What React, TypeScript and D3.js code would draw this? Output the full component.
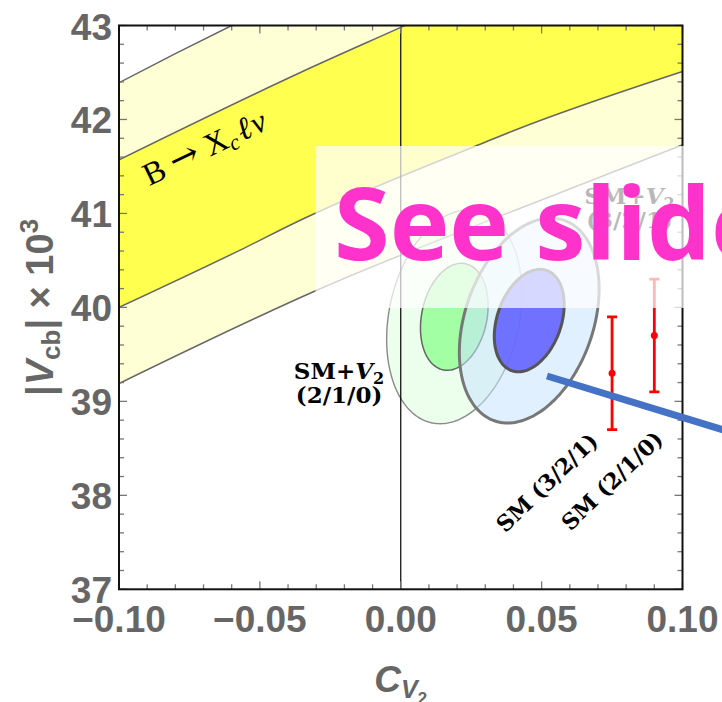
import React from "react";
import * as d3 from "d3";

const W = 722;
const H = 702;

// Edges of the B -> X_c l nu band, as [C_V2, |Vcb| x 10^3]; the last points lie above the frame
const bandOuterUpper: number[][] = [[-0.1, 42.39], [-0.08, 42.7], [-0.06, 43.0], [-0.04, 43.29], [0.1, 45.3]];
const bandInnerUpper: number[][] = [[-0.1, 41.57], [-0.0356, 42.5], [0.0, 42.98], [0.02, 43.25], [0.1, 44.3]];
const bandInnerLower: number[][] = [[-0.1, 40.0], [-0.057, 40.61], [-0.0355, 40.93], [0.026, 41.71], [0.04, 41.88], [0.1, 42.51]];
const bandOuterLower: number[][] = [[-0.1, 39.19], [-0.03, 40.18], [0.0565, 41.22], [0.1, 41.73]];

// Fit results (centre, 1-sigma widths, correlation) for the SM+V2 fits
const fitLabels = ["(2/1/0)", "(3/2/1)"];
const fitC = [0.019, 0.0456];
const fitV = [39.9, 39.86];
const fitSigmaC = [0.012, 0.0124];
const fitSigmaV = [0.569, 0.545];
const fitRho = [0.21, 0.31];

// SM fits drawn as error bars
const smLabels = ["SM (3/2/1)", "SM (2/1/0)"];
const smC = [0.075, 0.09];
const smV = [39.3, 39.7];
const smErr = [0.6, 0.6];

const xTickValues = [-0.1, -0.05, 0.0, 0.05, 0.1];
const yTickValues = [37, 38, 39, 40, 41, 42, 43];

const fmtX = (v: number) => (v < 0 ? "\u2212" : "") + Math.abs(v).toFixed(2);

export default function App() {
  const left = 119, right = 682.5, top = 25.5, bottom = 589.3;
  const x = d3.scaleLinear().domain([-0.1, 0.1]).range([left, right]);
  const y = d3.scaleLinear().domain([37, 43]).range([bottom, top]);

  const line = d3
    .line<number[]>()
    .x((d) => x(d[0]))
    .y((d) => y(d[1]))
    .curve(d3.curveMonotoneX);

  const bandPath = (upper: number[][], lower: number[][]) => {
    const up = line(upper) as string;
    const back = line([...lower].reverse()) as string;
    return up + "L" + back.slice(1) + "Z";
  };

  const ellipse = (i: number, k: number) => {
    const r = fitRho[i];
    const pts = d3.range(0, 360, 2).map((deg) => {
      const t = (deg * Math.PI) / 180;
      return [
        fitC[i] + k * fitSigmaC[i] * Math.cos(t),
        fitV[i] + k * fitSigmaV[i] * (r * Math.cos(t) + Math.sqrt(1 - r * r) * Math.sin(t)),
      ];
    });
    return d3
      .line<number[]>()
      .x((d) => x(d[0]))
      .y((d) => y(d[1]))
      .curve(d3.curveCardinalClosed)(pts) as string;
  };

  const xMinor = x.ticks(20);
  const yMinor = y.ticks(30);
  const tickColor = "#777";
  const labelFont = "'Liberation Sans', Arial, sans-serif";
  const serif = "'Liberation Serif', 'Times New Roman', serif";
  const boldSerif = "'DejaVu Serif', serif";

  const bandAngle = -25.7;
  const smAngle = -44;

  return (
    <svg
      width={W}
      height={H}
      viewBox={`0 0 ${W} ${H}`}
      style={{ position: "absolute", left: 0, top: 0, background: "#fff" }}
    >
      <defs>
        <clipPath id="plotClip">
          <rect x={left} y={top} width={right - left} height={bottom - top} />
        </clipPath>
      </defs>
      <rect x={0} y={0} width={W} height={H} fill="#fff" />

      {/* inclusive B -> X_c l nu band */}
      <g clipPath="url(#plotClip)">
        <path d={bandPath(bandOuterUpper, bandOuterLower)} fill="#ffffd6" />
        <path d={bandPath(bandInnerUpper, bandInnerLower)} fill="#ffff50" />
        {[bandOuterUpper, bandInnerUpper, bandInnerLower, bandOuterLower].map((b, i) => (
          <path key={i} d={line(b) as string} fill="none" stroke="#666" strokeWidth={1.5} />
        ))}

        {/* SM+V2 (2/1/0) contours */}
        <path d={ellipse(0, 2)} fill="rgb(200,255,200)" fillOpacity={0.35} stroke="#8a8a8a" strokeWidth={1.4} />
        <path d={ellipse(0, 1)} fill="rgb(150,255,150)" fillOpacity={0.85} stroke="#666" strokeWidth={1.5} />
        {/* SM+V2 (3/2/1) contours */}
        <path d={ellipse(1, 2)} fill="rgb(200,228,255)" fillOpacity={0.55} stroke="#777" strokeWidth={3} />
        <path d={ellipse(1, 1)} fill="rgb(100,100,255)" fillOpacity={0.9} stroke="#555" strokeWidth={3} />

        <line x1={x(0)} x2={x(0)} y1={top} y2={bottom} stroke="#000" strokeWidth={1.2} />

        {/* SM error bars */}
        {smC.map((c, i) => (
          <g key={i} stroke="#ff0000" strokeWidth={2.8}>
            <line x1={x(c)} x2={x(c)} y1={y(smV[i] - smErr[i])} y2={y(smV[i] + smErr[i])} />
            <line x1={x(c) - 5} x2={x(c) + 5} y1={y(smV[i] - smErr[i])} y2={y(smV[i] - smErr[i])} />
            <line x1={x(c) - 5} x2={x(c) + 5} y1={y(smV[i] + smErr[i])} y2={y(smV[i] + smErr[i])} />
            <circle cx={x(c)} cy={y(smV[i])} r={3.5} fill="#ff0000" stroke="none" />
          </g>
        ))}
      </g>

      {/* band label */}
      <text
        transform={`translate(${x(-0.0893)},${y(41.29)}) rotate(${bandAngle})`}
        fontFamily={serif}
        fontSize={32}
        fill="#000"
      >
        <tspan>B</tspan>
        <tspan fontFamily={boldSerif} fontSize={35} dx={8}>→</tspan>
        <tspan dx={9}>X</tspan>
        <tspan fontStyle="italic" fontSize={22} dy={5}>c</tspan>
        <tspan fontStyle="italic" dy={-5} dx={3}>ℓ</tspan>
        <tspan fontStyle="italic" dx={2}>ν</tspan>
      </text>

      {/* fit labels */}
      {[
        { c: -0.0219, v: 39.235, i: 0 },
        { c: 0.0812, v: 41.1, i: 1 },
      ].map((p) => (
        <text
          key={p.i}
          x={x(p.c)}
          y={y(p.v)}
          fontFamily={boldSerif}
          fontWeight="bold"
          fontSize={23}
          textAnchor="middle"
          fill="#000"
        >
          <tspan>SM+</tspan>
          <tspan fontStyle="italic">V</tspan>
          <tspan fontSize={16} dy={5}>2</tspan>
          <tspan x={x(p.c)} dy={19}>{fitLabels[p.i]}</tspan>
        </text>
      ))}

      {/* SM labels */}
      {[
        { c: 0.0705, v: 38.56 },
        { c: 0.0936, v: 38.58 },
      ].map((p, i) => (
        <text
          key={i}
          transform={`translate(${x(p.c)},${y(p.v)}) rotate(${smAngle})`}
          fontFamily={boldSerif}
          fontWeight="bold"
          fontSize={22}
          textAnchor="end"
          fill="#000"
        >
          {smLabels[i]}
        </text>
      ))}

      {/* frame and ticks */}
      <g stroke={tickColor} strokeWidth={1.3}>
        {xMinor.map((t, i) => {
          const major = xTickValues.some((m) => Math.abs(m - t) < 1e-9);
          const len = major ? 8 : 5;
          return (
            <g key={"x" + i}>
              <line x1={x(t)} x2={x(t)} y1={bottom} y2={bottom - len} />
              <line x1={x(t)} x2={x(t)} y1={top} y2={top + len} />
            </g>
          );
        })}
        {yMinor.map((t, i) => {
          const major = yTickValues.some((m) => Math.abs(m - t) < 1e-9);
          const len = major ? 8 : 5;
          return (
            <g key={"y" + i}>
              <line x1={left} x2={left + len} y1={y(t)} y2={y(t)} />
              <line x1={right} x2={right - len} y1={y(t)} y2={y(t)} />
            </g>
          );
        })}
      </g>
      <rect x={left} y={top} width={right - left} height={bottom - top} fill="none" stroke="#111" strokeWidth={2} />

      {/* tick labels */}
      <g fontFamily={labelFont} fontWeight="bold" fontSize={37} fill="#666">
        {xTickValues.map((t) => (
          <text key={t} x={x(t)} y={bottom + 42.4} textAnchor="middle">
            {fmtX(t)}
          </text>
        ))}
        {yTickValues.map((t) => (
          <text key={t} x={left - 7} y={y(t) + 14} textAnchor="end">
            {t}
          </text>
        ))}
      </g>

      {/* axis titles */}
      <text x={(left + right) / 2} y={692} textAnchor="middle" fontFamily={labelFont} fontWeight="bold" fontSize={37} fill="#666">
        <tspan fontStyle="italic">C</tspan>
        <tspan fontStyle="italic" fontSize={25} dy={6}>V</tspan>
        <tspan fontSize={17} dy={6}>2</tspan>
      </text>
      <text
        transform={`translate(53,${(top + bottom) / 2}) rotate(-90)`}
        textAnchor="middle"
        fontFamily={labelFont}
        fontWeight="bold"
        fontSize={38}
        fill="#666"
      >
        <tspan>|</tspan>
        <tspan fontStyle="italic">V</tspan>
        <tspan fontSize={26} dy={7}>cb</tspan>
        <tspan dy={-7}>| × 10</tspan>
        <tspan fontSize={26} dy={-15}>3</tspan>
      </text>

      {/* slide annotation */}
      <rect x={315.5} y={146} width={W - 315.5} height={308 - 146} fill="#fff" fillOpacity={0.72} />
      <text x={334} y={260} fontFamily="'Open Sans', sans-serif" fontWeight="bold" fontSize={101} fill="#ff33cc">
        See slide
      </text>
      <line x1={547} y1={376} x2={740} y2={435} stroke="#4472c4" strokeWidth={7} />
    </svg>
  );
}
